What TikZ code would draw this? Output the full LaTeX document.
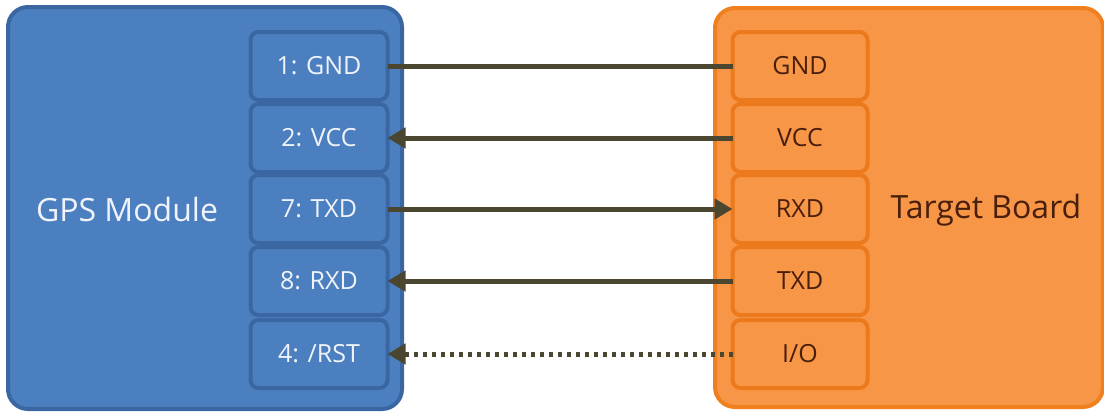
\documentclass[tikz,border=0pt]{standalone}
\usepackage{fontspec}
\setmainfont{Open Sans}
\usetikzlibrary{arrows.meta}
\definecolor{gpsfill}{HTML}{4B7FC0}
\definecolor{gpsline}{HTML}{3A67A2}
\definecolor{tbfill}{HTML}{F79646}
\definecolor{tbline}{HTML}{F07F1E}
\definecolor{tbpinline}{HTML}{EC7A1C}
\definecolor{wirecol}{HTML}{4A4630}
\definecolor{gpstext}{HTML}{F0F4FA}
\definecolor{tbtext}{HTML}{4A1E0C}
\tikzset{
  board/.style={draw, line width=2pt, rounded corners=10pt, inner sep=0pt, outer sep=0pt},
  gpsboard/.style={board, fill=gpsfill, draw=gpsline, minimum width=197pt, minimum height=201pt},
  tbboard/.style={board, fill=tbfill, draw=tbline, minimum width=194pt, minimum height=199.5pt},
  pin/.style={draw, line width=2pt, rounded corners=4pt, inner sep=0pt, outer sep=0pt,
    minimum height=34pt, font=\fontsize{12.5pt}{14pt}\selectfont},
  gpspin/.style={pin, fill=gpsfill, draw=gpsline, text=gpstext, minimum width=68.5pt},
  tbpin/.style={pin, fill=tbfill, draw=tbpinline, text=tbtext, minimum width=67.5pt},
  title/.style={font=\fontsize{16pt}{19pt}\selectfont, inner sep=0pt},
  wire/.style={draw=wirecol, line width=2.5pt},
  sig/.style={wire, -{Triangle[length=9pt,width=10pt]}},
  rstwire/.style={sig, dash pattern=on 2pt off 2.5pt}
}
\begin{document}
\begin{tikzpicture}[x=0.5pt,y=-0.5pt]
  \useasboundingbox (0,0) rectangle (1104,412);
  % the two boards
  \node[gpsboard] (gps) at (205,208) {};
  \node[tbboard] (tb) at (909,207.5) {};
  \node[title, text=gpstext] (gpsname) at (127,209) {GPS Module};
  \node[title, text=tbtext] (tbname) at (986,210) {Target Board};
  % GPS module pins
  \node[gpspin] (g1) at (319,66) {1: GND};
  \node[gpspin] (g2) at (319,138) {2: VCC};
  \node[gpspin] (g3) at (319,209) {7: TXD};
  \node[gpspin] (g4) at (319,281) {8: RXD};
  \node[gpspin] (g5) at (319,354) {4: /RST};
  % target board pins
  \node[tbpin] (t1) at (800,66) {GND};
  \node[tbpin] (t2) at (800,138) {VCC};
  \node[tbpin] (t3) at (800,209) {RXD};
  \node[tbpin] (t4) at (800,281) {TXD};
  \node[tbpin] (t5) at (800,354) {I/O};
  % connections
  \draw[wire] (g1.east) -- (t1.west);
  \draw[sig] (t2.west) -- (g2.east);
  \draw[sig] (g3.east) -- (t3.west);
  \draw[sig] (t4.west) -- (g4.east);
  \draw[rstwire] (t5.west) -- (g5.east);
\end{tikzpicture}
\end{document}
